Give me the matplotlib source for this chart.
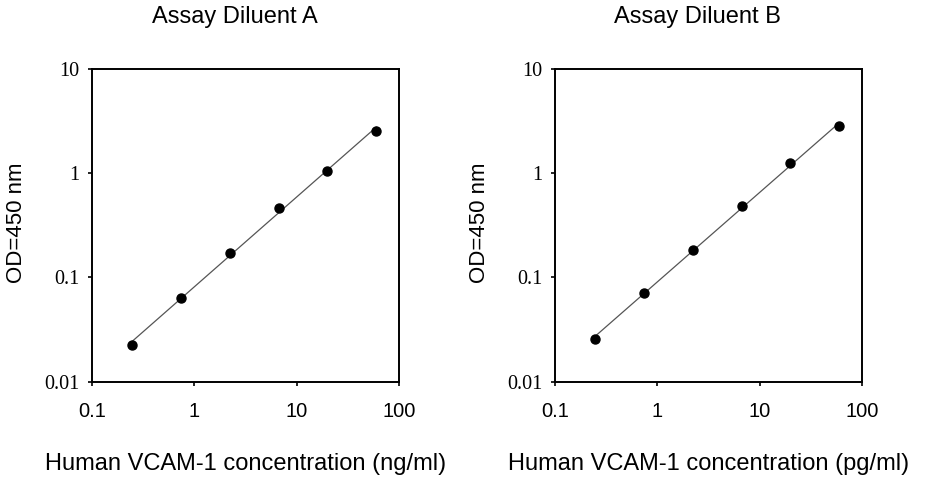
import numpy as np
import matplotlib
matplotlib.use("Agg")
import matplotlib.pyplot as plt
from matplotlib.ticker import FixedLocator, NullLocator

# ----------------------------------------------------------------
# Data
# ----------------------------------------------------------------
concentration = [0.247, 0.74, 2.22, 6.67, 20.0, 60.0]
od_diluent_a = [0.0222, 0.0634, 0.173, 0.463, 1.06, 2.55]
od_diluent_b = [0.0258, 0.0703, 0.185, 0.487, 1.24, 2.81]

titles = ["Assay Diluent A", "Assay Diluent B"]
x_labels = ["Human VCAM-1 concentration (ng/ml)",
            "Human VCAM-1 concentration (pg/ml)"]
y_label = "OD=450 nm"

x_ticks = [0.1, 1, 10, 100]
x_tick_labels = ["0.1", "1", "10", "100"]
y_ticks = [0.01, 0.1, 1, 10]
y_tick_labels = ["0.01", "0.1", "1", "10"]

SANS = "Liberation Sans"
SERIF = "Liberation Serif"

fig = plt.figure(figsize=(9.26, 4.80), dpi=100)

panels = [(0.0994, od_diluent_a), (0.5994, od_diluent_b)]

for i, (left, od) in enumerate(panels):
    ax = fig.add_axes([left, 0.2052, 0.3315, 0.651])
    ax.set_xscale("log")
    ax.set_yscale("log")
    ax.set_xlim(0.1, 100)
    ax.set_ylim(0.01, 10)

    # straight-line fit in log-log space, from first to last standard
    slope, icept = np.polyfit(np.log10(concentration), np.log10(od), 1)
    xs = np.array([concentration[0], concentration[-1]])
    ax.plot(xs, 10 ** (icept + slope * np.log10(xs)), color="#555555", lw=0.9)
    ax.plot(concentration, od, "o", color="black", ms=6.5)

    ax.xaxis.set_major_locator(FixedLocator(x_ticks))
    ax.yaxis.set_major_locator(FixedLocator(y_ticks))
    ax.xaxis.set_minor_locator(NullLocator())
    ax.yaxis.set_minor_locator(NullLocator())
    ax.set_xticklabels(x_tick_labels, fontfamily=SANS, fontsize=14.5)
    ax.set_yticklabels(y_tick_labels, fontfamily=SERIF, fontsize=14.5)
    ax.tick_params(axis="x", direction="out", length=3, width=1.2, pad=12)
    ax.tick_params(axis="y", direction="out", length=3, width=1.2, pad=6)

    for sp in ax.spines.values():
        sp.set_linewidth(1.4)

    cx = left + 0.3315 / 2
    fig.text(cx - 11 / 926, 0.952, titles[i], ha="center", va="baseline",
             fontfamily=SANS, fontsize=17)
    fig.text(cx, 0.0208, x_labels[i], ha="center", va="baseline",
             fontfamily=SANS, fontsize=17)
    fig.text(left - 76 / 926, 0.5354, y_label, ha="center", va="center",
             rotation=90, fontfamily=SANS, fontsize=16)

fig.savefig("out.png", dpi=100)
